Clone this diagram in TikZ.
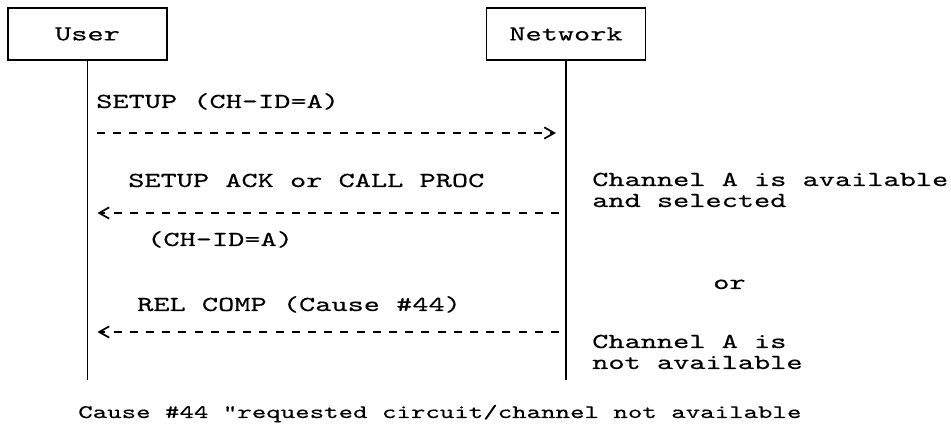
\documentclass[tikz,border=0pt]{standalone}
\usepackage{fontspec}
\usetikzlibrary{arrows.meta}
% Courier-like typewriter face for all labels
\newfontfamily\typer{lmmono10-regular.otf}[FakeStretch=1.445,FakeBold=0.35]
\begin{document}
\begin{tikzpicture}[x=0.75pt,y=-0.75pt,
  every node/.style={font=\typer\fontsize{16}{15}\selectfont, inner sep=0pt},
  actor/.style={draw, line width=1.1pt, minimum width=119.25pt, minimum height=39pt},
  lifeline/.style={line width=1.4pt},
  msg/.style={line width=1.3pt, dash pattern=on 6pt off 6.15pt,
    -{Straight Barb[length=7.5pt,width=8.5pt,line width=1.3pt]}},
  txt/.style={anchor=base west},
  caption/.style={anchor=base west, font=\typer\fontsize{14.3}{14}\selectfont}
]
\useasboundingbox (0,0) rectangle (951,434);

% the two parties
\node[actor] (user) at (87.5,34) {User};
\node[actor] (net)  at (566,34)  {Network};

% lifelines
\coordinate (yend) at (0,380);
\coordinate (uend) at (user.south |- yend);
\coordinate (nend) at (net.south |- yend);
\draw[lifeline] (user.south) -- (uend);
\draw[lifeline] (net.south) -- (nend);

% message levels
\coordinate (y1) at (0,133);
\coordinate (y2) at (0,213);
\coordinate (y3) at (0,332);
\coordinate (u1) at (user.south |- y1);
\coordinate (n1) at (net.south |- y1);
\coordinate (u2) at (user.south |- y2);
\coordinate (n2) at (net.south |- y2);
\coordinate (u3) at (user.south |- y3);
\coordinate (n3) at (net.south |- y3);

% SETUP
\node[txt] (m1) at (96,108) {SETUP (CH-ID=A)};
\draw[msg, shorten <=6.75pt, shorten >=7.5pt] (u1) -- (n1);

% SETUP ACK / CALL PROC
\node[txt] (m2) at (128,187) {SETUP ACK or CALL PROC};
\draw[msg, shorten <=5.25pt, shorten >=7.5pt] (n2) -- (u2);
\node[txt] (m2b) at (147,246) {(CH-ID=A)};
\node[txt] (r1a) at (592,186) {Channel A is available};
\node[txt] (r1b) at (592,207) {and selected};

\node[txt] (or) at (713,289) {or};

% REL COMP
\node[txt] (m3) at (137,311) {REL COMP (Cause \#44)};
\draw[msg, shorten <=5.25pt, shorten >=7.5pt] (n3) -- (u3);
\node[txt] (r2a) at (592,348) {Channel A is};
\node[txt] (r2b) at (592,369) {not available};

\node[caption] (cap) at (78,418) {Cause \#44 "requested circuit/channel not available};
\end{tikzpicture}
\end{document}
